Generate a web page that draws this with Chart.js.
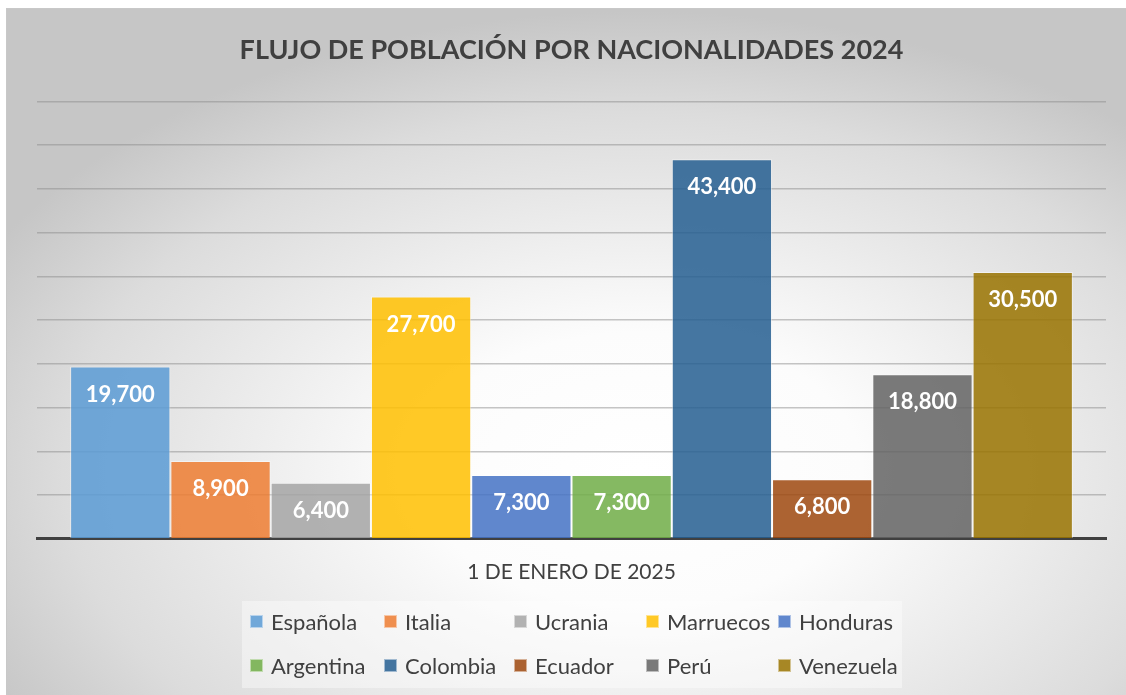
<!DOCTYPE html>
<html lang="es">
<head>
<meta charset="utf-8">
<title>Flujo de población por nacionalidades 2024</title>
<script src="https://cdn.jsdelivr.net/npm/chart.js@4.4.1/dist/chart.umd.min.js"></script>
<style>
  html, body { margin: 0; padding: 0; background: #ffffff; }
  #wrap { position: relative; width: 1126px; height: 695px; }
  #legend {
    position: absolute; left: 242px; top: 601px; width: 660px; height: 87px;
    background: rgba(255, 255, 255, 0.4);
    display: grid; grid-template-columns: 134px 130px 132px 132px 132px;
    grid-template-rows: 41px 46px; padding-left: 8px; box-sizing: border-box;
    font-family: Lato, sans-serif; font-size: 22px; color: #404040;
  }
  .item { display: flex; align-items: center; white-space: nowrap; }
  .swatch { width: 13px; height: 13px; margin-right: 8px; box-sizing: border-box; border: 1px solid rgba(255,255,255,0.5); }
</style>
</head>
<body>
<div id="wrap">
  <canvas id="chart"></canvas>
  <div id="legend"></div>
</div>
<script>
const categories = ["1 DE ENERO DE 2025"];
const nationalities = ["Española", "Italia", "Ucrania", "Marruecos", "Honduras",
  "Argentina", "Colombia", "Ecuador", "Perú", "Venezuela"];
const population = [19700, 8900, 6400, 27700, 7300, 7300, 43400, 6800, 18800, 30500];
const barColors = ["#5B9BD5", "#ED7D31", "#A5A5A5", "#FFC000", "#4472C4",
  "#70AD47", "#255E91", "#9E480E", "#636363", "#997300"];

const textColor = "#404040";
const fontFamily = "Lato, sans-serif";

function withAlpha(hex, alpha) {
  const n = parseInt(hex.slice(1), 16);
  return `rgba(${(n >> 16) & 255}, ${(n >> 8) & 255}, ${n & 255}, ${alpha})`;
}

// panel background: soft grey radial shading
const panelBackground = {
  id: "panelBackground",
  beforeDraw(chart) {
    const { ctx, width, height } = chart;
    ctx.save();
    ctx.fillStyle = "#ffffff";
    ctx.fillRect(0, 0, width, height);
    ctx.translate(640, 470);
    ctx.scale(1, 0.62);
    const g = ctx.createRadialGradient(0, 0, 0, 0, 0, 740);
    g.addColorStop(0, "#ffffff");
    g.addColorStop(0.3, "#fcfcfc");
    g.addColorStop(0.78, "#dcdcdc");
    g.addColorStop(1, "#c6c6c6");
    ctx.fillStyle = g;
    ctx.fillRect(6 - 640, (8 - 470) / 0.62, width, height / 0.62 + 20);
    ctx.restore();
    ctx.save();
    ctx.strokeStyle = "#c8c8c8";
    ctx.lineWidth = 1;
    ctx.beginPath();
    ctx.moveTo(6.5, height);
    ctx.lineTo(6.5, 8.5);
    ctx.lineTo(width, 8.5);
    ctx.stroke();
    ctx.restore();
  },
};

// white value labels inside the top of each bar
const valueLabels = {
  id: "valueLabels",
  afterDatasetsDraw(chart) {
    const { ctx } = chart;
    ctx.save();
    ctx.fillStyle = "#ffffff";
    ctx.font = `bold 22px ${fontFamily}`;
    ctx.textAlign = "center";
    ctx.textBaseline = "middle";
    chart.data.datasets.forEach((dataset, i) => {
      chart.getDatasetMeta(i).data.forEach((bar, j) => {
        ctx.fillText(dataset.data[j].toLocaleString("en-US"), bar.x, bar.y + 28);
      });
    });
    ctx.restore();
  },
};

const datasets = nationalities.map((name, i) => ({
  label: name,
  data: [population[i]],
  backgroundColor: withAlpha(barColors[i], 0.85),
  borderColor: "rgba(255, 255, 255, 0.45)",
  borderWidth: 1,
  barPercentage: 1,
  categoryPercentage: 0.938,
}));

new Chart(document.querySelector("#chart"), {
  type: "bar",
  data: { labels: categories, datasets },
  options: {
    responsive: true,
    maintainAspectRatio: false,
    animation: false,
    layout: { padding: { left: 37, right: 20, top: 0, bottom: 89 } },
    plugins: {
      legend: { display: false },
      tooltip: { enabled: false },
      title: {
        display: true,
        text: "FLUJO DE POBLACIÓN POR NACIONALIDADES 2024",
        color: textColor,
        font: { family: fontFamily, size: 27, weight: "bold" },
        padding: { top: 34, bottom: 35 },
      },
    },
    scales: {
      x: {
        z: 1,
        grid: { display: false, drawTicks: false },
        border: { color: "#404040", width: 3 },
        ticks: { color: textColor, font: { family: fontFamily, size: 21 }, padding: 21 },
      },
      y: {
        min: 0,
        max: 50000,
        ticks: { display: false, stepSize: 5000 },
        grid: { color: "rgba(140, 140, 140, 0.5)", lineWidth: 1.5, drawTicks: false },
        border: { display: false },
      },
    },
  },
  plugins: [panelBackground, valueLabels],
});

const legend = document.querySelector("#legend");
nationalities.forEach((name, i) => {
  const item = document.createElement("div");
  item.className = "item";
  const swatch = document.createElement("span");
  swatch.className = "swatch";
  swatch.style.background = withAlpha(barColors[i], 0.85);
  item.append(swatch, document.createTextNode(name));
  legend.append(item);
});
</script>
</body>
</html>
